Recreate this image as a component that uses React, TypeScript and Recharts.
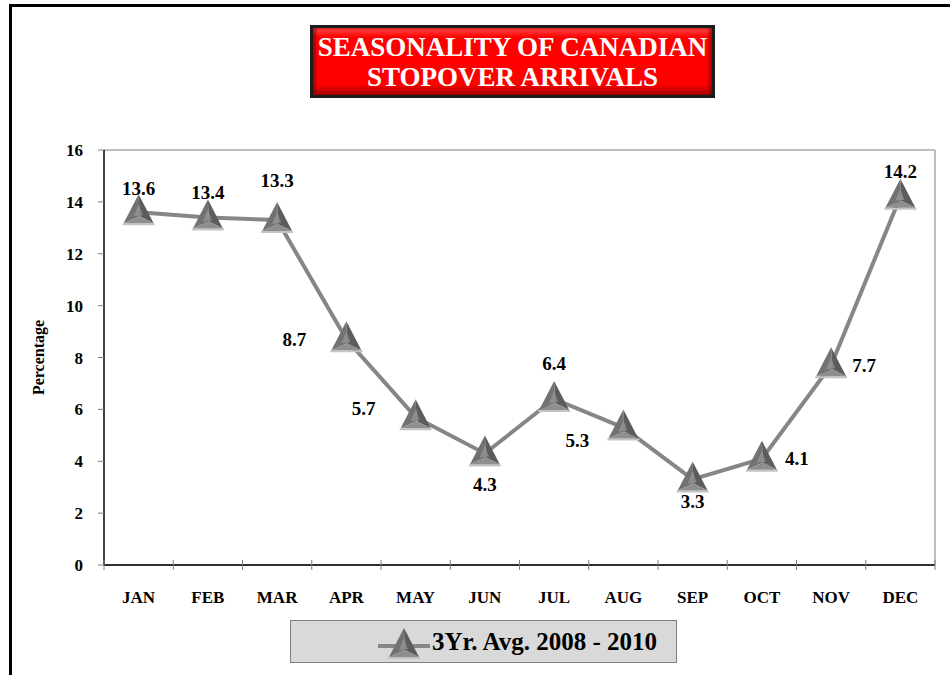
import { CartesianGrid, LabelList, Legend, Line, LineChart, XAxis, YAxis } from "recharts";

const months = ["JAN", "FEB", "MAR", "APR", "MAY", "JUN", "JUL", "AUG", "SEP", "OCT", "NOV", "DEC"];
const avgShare = [13.6, 13.4, 13.3, 8.7, 5.7, 4.3, 6.4, 5.3, 3.3, 4.1, 7.7, 14.2];
const yTicks = [0, 2, 4, 6, 8, 10, 12, 14, 16];
const seriesName = "3Yr. Avg. 2008 - 2010";
const titleLines = ["SEASONALITY OF CANADIAN", "STOPOVER ARRIVALS"];

const rows = months.map((month, i) => ({ month, share: avgShare[i] }));

// where each value label sits relative to its marker (dx, dy), like the Excel original
const LABEL_NUDGE: [number, number][] = [
  [0, -24], [0, -25], [0, -40], [-52, 0], [-52, -9], [0, 31],
  [0, -36], [-46, 13], [0, 22], [35, 0], [33, 0], [0, -25],
];

const SERIF = '"Liberation Serif", "Times New Roman", serif';
const LINE_GRAY = "#868686";
const PLOT_W = 831;

function pyramid(cx: number, cy: number, key?: string) {
  const top = `${cx},${cy - 18}`;
  const left = `${cx - 15},${cy + 11}`;
  const right = `${cx + 15},${cy + 11}`;
  const mid = `${cx + 1},${cy + 4}`;
  return (
    <g key={key}>
      <line x1={cx - 16} x2={cx + 16} y1={cy + 12} y2={cy + 12} stroke="#c4c4c4" strokeWidth={2} />
      <polygon points={`${top} ${left} ${mid}`} fill="#727272" />
      <polygon points={`${top} ${mid} ${right}`} fill="#5c5c5c" />
      <polygon points={`${left} ${mid} ${right}`} fill="#8e8e8e" />
      <polygon points={`${cx},${cy - 8} ${cx - 5},${cy + 4} ${cx + 4},${cy + 3}`} fill="#a2a2a2" opacity={0.6} />
    </g>
  );
}

function renderDot(props: any) {
  const { cx, cy, index } = props;
  if (cx == null || cy == null) return <g key={`d-${index}`} />;
  return pyramid(cx, cy, `d-${index}`);
}

function renderValueLabel(props: any) {
  const { x, y, width, value, index } = props;
  const [dx, dy] = LABEL_NUDGE[index] ?? [0, -24];
  const cx = x + (width ?? 0) / 2;
  return (
    <text
      key={`v-${index}`}
      x={cx + dx}
      y={y + dy}
      textAnchor="middle"
      dominantBaseline="central"
      fontFamily={SERIF}
      fontWeight={700}
      fontSize={19}
      fill="#000"
    >
      {value}
    </text>
  );
}

function MonthTick(props: any) {
  const { x, y, payload, index } = props;
  const band = PLOT_W / months.length;
  const left = x - band / 2;
  return (
    <g>
      <line x1={left} x2={left} y1={y - 5} y2={y + 5} stroke="#808080" />
      {index === months.length - 1 && (
        <line x1={x + band / 2} x2={x + band / 2} y1={y - 5} y2={y + 5} stroke="#808080" />
      )}
      <text x={x} y={y + 38} textAnchor="middle" fontFamily={SERIF} fontWeight={700} fontSize={17} fill="#000">
        {payload.value}
      </text>
    </g>
  );
}

function LegendBox(props: any) {
  const name = props.payload?.[0]?.value ?? seriesName;
  return (
    <div
      style={{
        boxSizing: "border-box",
        width: 387,
        height: 43,
        background: "#d9d9d9",
        border: "1.5px solid #7f7f7f",
        display: "flex",
        alignItems: "center",
        paddingLeft: 86,
      }}
    >
      <svg width={54} height={34} style={{ display: "block" }}>
        <line x1={1} x2={53} y1={21} y2={21} stroke={LINE_GRAY} strokeWidth={4} />
        {pyramid(27, 21)}
      </svg>
      <span style={{ fontFamily: SERIF, fontWeight: 700, fontSize: 25, color: "#000", marginLeft: 1 }}>{name}</span>
    </div>
  );
}

function YLabel(props: any) {
  const vb = props.viewBox ?? { x: 0, y: 150, width: 104, height: 415 };
  const x = vb.x + 38;
  const y = vb.y + vb.height / 2;
  return (
    <text
      x={x}
      y={y}
      transform={`rotate(-90 ${x} ${y})`}
      textAnchor="middle"
      dominantBaseline="central"
      fontFamily={SERIF}
      fontWeight={700}
      fontSize={16}
      fill="#000"
    >
      Percentage
    </text>
  );
}

export default function App() {
  return (
    <div style={{ position: "absolute", left: 0, top: 0, width: 950, height: 675, overflow: "hidden", background: "#fff" }}>
      <div
        style={{
          position: "absolute",
          left: 9,
          top: 4,
          width: 1000,
          height: 800,
          borderLeft: "3px solid #000",
          borderTop: "3px solid #000",
        }}
      />
      <div style={{ position: "absolute", left: 0, top: 0 }}>
        <LineChart width={950} height={675} data={rows} margin={{ top: 150, right: 0, bottom: 80, left: 0 }}>
          <CartesianGrid stroke="#808080" vertical={false} />
          <XAxis
            dataKey="month"
            scale="band"
            height={30}
            axisLine={{ stroke: "#000", strokeWidth: 1.5 }}
            tickLine={false}
            tickSize={0}
            tickMargin={0}
            interval={0}
            tick={<MonthTick />}
          />
          <YAxis
            yAxisId="left"
            width={104}
            domain={[0, 16]}
            ticks={yTicks}
            interval={0}
            axisLine={{ stroke: "#000", strokeWidth: 1.5 }}
            tickLine={{ stroke: "#808080" }}
            tickSize={6}
            tickMargin={15}
            tick={{ fontFamily: SERIF, fontWeight: 700, fontSize: 17, fill: "#000" }}
            label={<YLabel />}
          />
          <YAxis
            yAxisId="right"
            orientation="right"
            width={15}
            domain={[0, 16]}
            tick={false}
            tickLine={false}
            axisLine={{ stroke: "#808080" }}
          />
          <Legend
            layout="horizontal"
            verticalAlign="middle"
            align="center"
            content={<LegendBox />}
            wrapperStyle={{ position: "absolute", left: 290, top: 620, width: 387, height: 43 }}
          />
          <Line
            yAxisId="left"
            type="linear"
            dataKey="share"
            name={seriesName}
            stroke={LINE_GRAY}
            strokeWidth={4}
            dot={renderDot}
            activeDot={false}
            isAnimationActive={false}
          >
            <LabelList dataKey="share" content={renderValueLabel} />
          </Line>
        </LineChart>
      </div>
      <div
        style={{
          position: "absolute",
          left: 310,
          top: 25,
          width: 405,
          height: 73,
          boxSizing: "border-box",
          border: "3px solid #1c1c1c",
          background: "linear-gradient(#ff4a4a 0%, #ff0000 14%, #ff0000 84%, #a80000 100%)",
          boxShadow: "inset 3px 0 3px rgba(120,0,0,0.6), inset -3px 0 3px rgba(120,0,0,0.6)",
          display: "flex",
          flexDirection: "column",
          justifyContent: "center",
          alignItems: "center",
          color: "#fff",
          fontFamily: SERIF,
          fontWeight: 700,
          fontSize: 27,
          lineHeight: "30px",
        }}
      >
        {titleLines.map((t) => (
          <div key={t}>{t}</div>
        ))}
      </div>
    </div>
  );
}
